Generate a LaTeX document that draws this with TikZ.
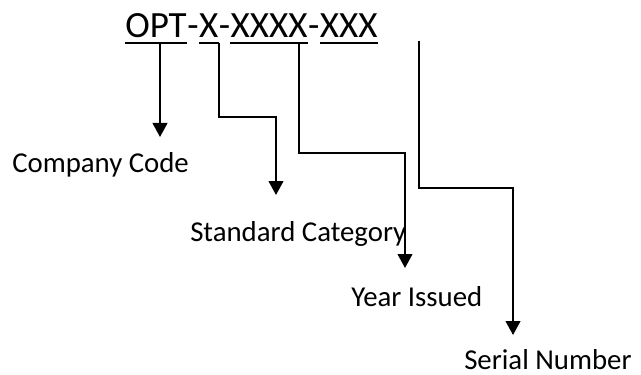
\documentclass[tikz,border=0pt]{standalone}
\usepackage{fontspec}
\setmainfont{Carlito}
\usetikzlibrary{arrows.meta}

\tikzset{
  code/.style={inner sep=0pt, anchor=base west, font=\fontsize{27.75pt}{30pt}\selectfont},
  lbl/.style={inner sep=0pt, anchor=base west, font=\fontsize{21.6pt}{24pt}\selectfont},
  uline/.style={line width=1.6pt},
  conn/.style={line width=1.6pt, -{Triangle[width=11pt,length=10.5pt]}}
}

\begin{document}
\begin{tikzpicture}[x=0.75pt,y=-0.75pt]
  \useasboundingbox (0,0) rectangle (641,374);

  % the part number, one node per field
  \node[code] (opt) at (125,38) {OPT};
  \node[code] (h1) at (opt.base east) {-};
  \node[code] (cat) at (h1.base east) {X};
  \node[code] (h2) at (cat.base east) {-};
  \node[code] (year) at (h2.base east) {XXXX};
  \node[code] (h3) at (year.base east) {-};
  \node[code] (serial) at (h3.base east) {XXX};
  \foreach \n in {opt,cat,year,serial} {
    \coordinate (\n-ul) at ([yshift=-3.75pt]\n.base);
    \draw[uline] ([yshift=-3.75pt]\n.base west) -- ([yshift=-3.75pt]\n.base east);
  }

  % field names
  \node[lbl] (company) at (12,172) {Company Code};
  \node[lbl] (standard) at (190,241) {Standard Category};
  \node[lbl] (issued) at (351,306) {Year Issued};
  \node[lbl] (number) at (464,369) {Serial Number};

  % bends and tips of the arrows
  \coordinate (t1) at (160,137);
  \coordinate (b2) at (219,117);
  \coordinate (t2) at (276,195);
  \coordinate (b3) at (299,153);
  \coordinate (t3) at (405,268);
  \coordinate (s4) at (419,41);
  \coordinate (b4) at (419,188);
  \coordinate (t4) at (513,335);

  \draw[conn] (opt-ul -| t1) -- (t1);
  \draw[conn] (cat-ul -| b2) -- (b2) -| (t2);
  \draw[conn] (year-ul -| b3) -- (b3) -| (t3);
  \draw[conn] (s4) -- (b4) -| (t4);
\end{tikzpicture}
\end{document}
